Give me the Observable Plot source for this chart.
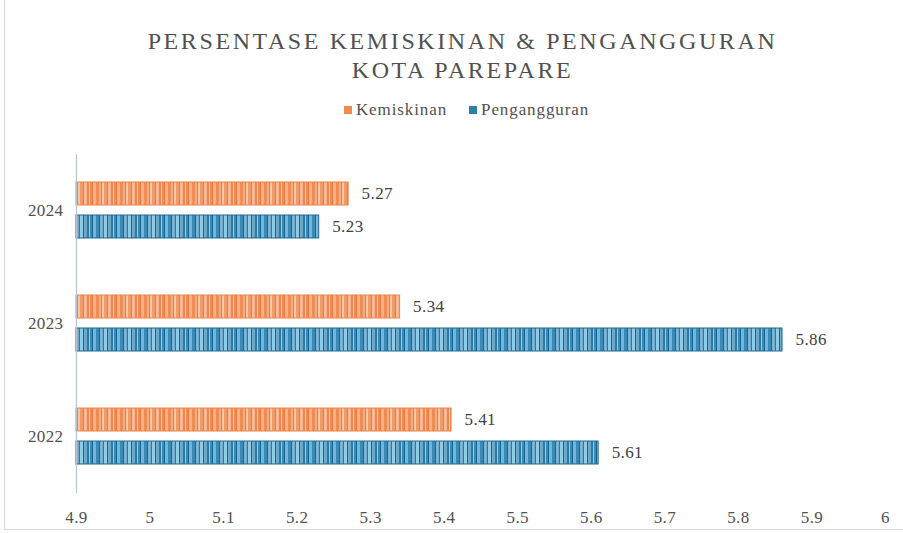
<!DOCTYPE html>
<html>
<head>
<meta charset="utf-8">
<script src="https://cdn.jsdelivr.net/npm/d3@7"></script>
<script src="https://cdn.jsdelivr.net/npm/@observablehq/plot@0.6"></script>
<style>
  html, body { margin: 0; padding: 0; background: #fff; }
  #wrap { position: relative; width: 903px; height: 533px; overflow: hidden; font-family: "Liberation Serif", "Times New Roman", serif; color: #595959; }
  #frame { position: absolute; left: 4px; top: -2px; width: 910px; height: 532px; border: 1px solid #d9d9d9; box-sizing: border-box; pointer-events: none; }
  #title { position: absolute; left: 11px; width: 903px; top: 27px; text-align: center; font-family: "Liberation Serif", "Times New Roman", serif; font-size: 24px; letter-spacing: 2.6px; line-height: 29px; color: #505050; }
  #legend { position: absolute; left: 15px; width: 903px; top: 100px; text-align: center; font-family: "Liberation Serif", "Times New Roman", serif; font-size: 17px; letter-spacing: 0.9px; color: #505050; }
  #legend span.sw { display: inline-block; width: 8px; height: 8px; margin-right: 4px; vertical-align: 1px; }
  #legend .item { margin: 0 11px; }
  #chart { position: absolute; left: 0; top: 140px; }
  #chart svg text { letter-spacing: 0.4px; }
</style>
</head>
<body>
<div id="wrap">
  <div id="title">PERSENTASE KEMISKINAN &amp; PENGANGGURAN<br>KOTA PAREPARE</div>
  <div id="legend"><span class="item"><span class="sw" style="background:#F08A50"></span>Kemiskinan</span><span class="item"><span class="sw" style="background:#2F7EA6"></span>Pengangguran</span></div>
  <div id="chart"></div>
  <div id="frame"></div>
</div>
<script>
const years = ["2024", "2023", "2022"];
const seriesNames = ["Kemiskinan", "Pengangguran"];
const kemiskinan = [5.27, 5.34, 5.41];
const pengangguran = [5.23, 5.86, 5.61];
const xTicks = [4.9, 5, 5.1, 5.2, 5.3, 5.4, 5.5, 5.6, 5.7, 5.8, 5.9, 6];
const xMin = 4.9, xMax = 6;

const rows = [];
years.forEach((yr, i) => {
  rows.push({year: yr, series: seriesNames[0], value: kemiskinan[i]});
  rows.push({year: yr, series: seriesNames[1], value: pengangguran[i]});
});
const rowsK = rows.filter(d => d.series === seriesNames[0]);
const rowsP = rows.filter(d => d.series === seriesNames[1]);

const chart = Plot.plot({
  width: 903,
  height: 393,
  marginLeft: 76,
  marginRight: 18,
  marginTop: 13,
  marginBottom: 40,
  style: {fontFamily: "'Liberation Serif', 'Times New Roman', serif", fontSize: "17px", color: "#505050", background: "transparent"},
  x: {domain: [xMin, xMax], ticks: xTicks, tickSize: 0, tickPadding: 17, label: null, tickFormat: d => String(d)},
  fy: {domain: years, padding: 0, label: null, tickSize: 0, tickPadding: 13},
  y: {domain: seriesNames, paddingInner: 0.294, paddingOuter: 0.816, axis: null},
  facet: {data: rows, y: "year"},
  marks: [
    Plot.barX(rowsK, {fy: "year", y: "series", x1: () => xMin, x2: "value", fill: "url(#patK)", stroke: "#EE8449", strokeWidth: 1}),
    Plot.barX(rowsP, {fy: "year", y: "series", x1: () => xMin, x2: "value", fill: "url(#patP)", stroke: "#1E6A8E", strokeWidth: 1}),
    Plot.text(rows, {fy: "year", y: "series", x: "value", text: d => d.value.toFixed(2), textAnchor: "start", dx: 13, fill: "#404040", fontSize: 17}),
    Plot.ruleX([xMin], {stroke: "#b8c4d0", strokeWidth: 1.2})
  ]
});

// Striped fill patterns for the bars
const ns = "http://www.w3.org/2000/svg";
const defs = document.createElementNS(ns, "defs");
function makePattern(id, stripes) {
  const p = document.createElementNS(ns, "pattern");
  p.setAttribute("id", id);
  p.setAttribute("patternUnits", "userSpaceOnUse");
  const w = stripes.reduce((s, d) => s + d[0], 0);
  p.setAttribute("width", w);
  p.setAttribute("height", 10);
  let x = 0;
  for (const [sw, c] of stripes) {
    const r = document.createElementNS(ns, "rect");
    r.setAttribute("x", x); r.setAttribute("y", 0);
    r.setAttribute("width", sw); r.setAttribute("height", 10);
    r.setAttribute("fill", c);
    p.appendChild(r);
    x += sw;
  }
  defs.appendChild(p);
}
const oK = ["#F28C55", "#F7B08A", "#EE7D42", "#FAC8A6", "#F39A66", "#EB763A", "#F8BC98", "#F08550"];
const oP = ["#3A8CB8", "#1C6790", "#6FB7DC", "#2B7BA6", "#8ECBE8", "#19628B", "#5AA7D0", "#2A7AA4"];
makePattern("patK", [[3, oK[0]], [1.5, oK[1]], [2, oK[2]], [1.5, oK[3]], [3, oK[4]], [1.5, oK[5]], [2, oK[6]], [2.5, oK[7]], [1, oK[3]], [2, oK[0]], [1.5, oK[5]], [2.5, oK[1]]]);
makePattern("patP", [[3, oP[0]], [1.5, oP[1]], [2, oP[2]], [1.5, oP[3]], [3, oP[4]], [1.5, oP[5]], [2, oP[6]], [2.5, oP[7]], [1, oP[4]], [2, oP[0]], [1.5, oP[5]], [2.5, oP[2]]]);
chart.insertBefore(defs, chart.firstChild);

document.getElementById("chart").appendChild(chart);
</script>
</body>
</html>
